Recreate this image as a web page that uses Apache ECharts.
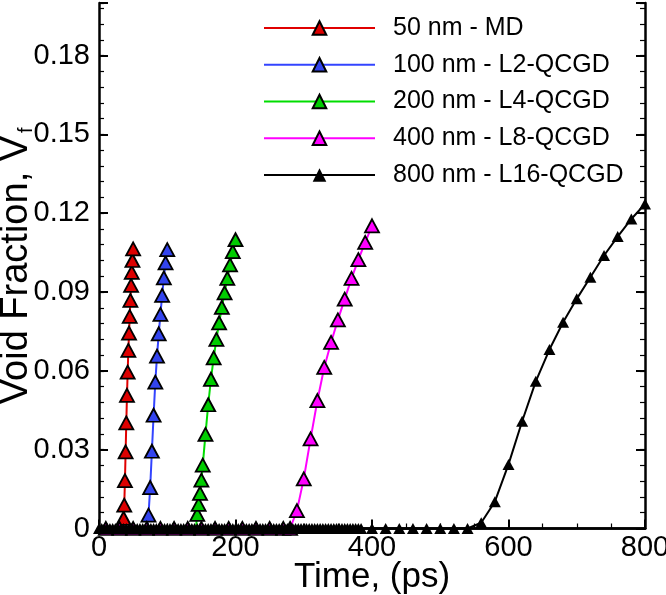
<!DOCTYPE html>
<html>
<head>
<meta charset="utf-8">
<script src="https://cdn.jsdelivr.net/npm/echarts@6/dist/echarts.min.js"></script>
<style>html,body{margin:0;padding:0;background:#fff;}#c{width:666px;height:595px;}</style>
</head>
<body>
<div id="c"></div>
<script>
// ---- data (Time in ps, void fraction Vf) ----
const seriesNames = ['50 nm - MD', '100 nm - L2-QCGD', '200 nm - L4-QCGD', '400 nm - L8-QCGD', '800 nm - L16-QCGD'];
const xTicks = [0, 200, 400, 600, 800];
const yTicks = [0, 0.03, 0.06, 0.09, 0.12, 0.15, 0.18];

// 50 nm - MD
const redFlatTime = [0, 35];
const redRiseTime = [36, 37, 38, 39, 40, 41, 42, 43, 44, 45, 46, 47, 48, 49, 50];
const redRiseVf = [0.0039, 0.0089, 0.0182, 0.0292, 0.0402, 0.0507, 0.0595, 0.0678, 0.0744, 0.0807, 0.0868, 0.0925, 0.0975, 0.1020, 0.1064];

// 100 nm - L2-QCGD
const blueFlatTime = [0, 70];
const blueRiseTime = [72.5, 75, 77.5, 80, 82.5, 85, 87.5, 90, 92.5, 95, 97.5, 100];
const blueRiseVf = [0.0051, 0.0156, 0.0294, 0.0431, 0.0557, 0.0656, 0.0741, 0.0815, 0.0887, 0.0954, 0.1011, 0.1061];

// 200 nm - L4-QCGD
const greenFlatTime = [0, 142];
const greenRiseTime = [144, 146, 148, 150, 152, 156, 160, 164, 168, 172, 176, 180, 184, 188, 192, 196, 200];
const greenRiseVf = [0.0054, 0.0092, 0.0134, 0.0184, 0.0241, 0.0358, 0.0471, 0.0568, 0.0649, 0.0720, 0.0783, 0.0842, 0.0897, 0.0952, 0.1003, 0.1054, 0.1099];

// 400 nm - L8-QCGD
const magentaFlatTime = [10, 30, 50, 70, 90, 110, 130, 150, 170, 190, 210, 230, 250, 270, 280];
const magentaRiseTime = [290, 300, 310, 320, 330, 340, 350, 360, 370, 380, 390, 400];
const magentaRiseVf = [0.0068, 0.0189, 0.0341, 0.0487, 0.0613, 0.0708, 0.0794, 0.0873, 0.0952, 0.1023, 0.1089, 0.1152];

// 800 nm - L16-QCGD
const blackFlatTime = [0,4,8,12,16,20,24,28,32,36,40,44,48,52,56,60,64,68,72,76,80,84,88,92,96,100,104,108,112,116,120,124,128,132,136,140,144,148,152,156,160,164,168,172,176,180,184,188,192,196,200,204,208,212,216,220,224,228,232,236,240,244,248,252,256,260,264,268,272,276,280,284,288,292,296,300,304,308,312,316,320,324,328,332,336,340,344,348,352,356,360,364,368,372,376,380,384,400,420,440,460,480,500,520,540];
const blackRiseTime = [560, 580, 600, 620, 640, 660, 680, 700, 720, 740, 760, 780, 800];
const blackRiseVf = [0.0022, 0.0102, 0.0244, 0.0408, 0.0560, 0.0681, 0.0785, 0.0874, 0.0956, 0.1039, 0.1111, 0.1178, 0.1235];

// ---- build ----
function build(flatTime, riseTime, riseVf, flatMarkers) {
  const out = [];
  flatTime.forEach(t => out.push(flatMarkers ? [t, 0] : { value: [t, 0], symbol: 'none' }));
  riseTime.forEach((t, i) => out.push([t, riseVf[i]]));
  return out;
}
const styles = [
  { fill: '#dd0000', line: '#e00000', size: [14, 13], border: 1.8, flat: false },
  { fill: '#3344ee', line: '#3344ff', size: [14, 13], border: 1.8, flat: false },
  { fill: '#00cc00', line: '#00dd00', size: [14, 13], border: 1.8, flat: false },
  { fill: '#ff00ff', line: '#ff00ff', size: [14, 13], border: 1.8, flat: true },
  { fill: '#000000', line: '#000000', size: [12, 11], border: 0, flat: true }
];
const datasets = [
  [redFlatTime, redRiseTime, redRiseVf],
  [blueFlatTime, blueRiseTime, blueRiseVf],
  [greenFlatTime, greenRiseTime, greenRiseVf],
  [magentaFlatTime, magentaRiseTime, magentaRiseVf],
  [blackFlatTime, blackRiseTime, blackRiseVf]
];
const series = datasets.map((d, i) => ({
  type: 'line',
  name: seriesNames[i],
  xAxisIndex: 0,
  yAxisIndex: 0,
  data: build(d[0], d[1], d[2], styles[i].flat),
  symbol: 'triangle',
  symbolSize: styles[i].size,
  showAllSymbol: true,
  clip: false,
  itemStyle: { color: styles[i].fill, borderColor: '#000', borderWidth: styles[i].border },
  lineStyle: { color: styles[i].line, width: 2 },
  emphasis: { disabled: true },
  z: 2 + i
}));

const axisCol = '#000';
const chart = echarts.init(document.getElementById('c'), null, { renderer: 'canvas' });
chart.setOption({
  animation: false,
  textStyle: { fontFamily: 'Liberation Sans, Arial, sans-serif' },
  grid: { left: 99, right: 21, top: 3, bottom: 66.5, containLabel: false, outerBoundsMode: 'none' },
  legend: {
    orient: 'vertical', left: 263, top: 15.5, padding: 0,
    itemWidth: 111, itemHeight: 17, itemGap: 11.75,
    textStyle: { fontSize: 25, color: '#000', lineHeight: 25, padding: [0, 0, 0, 13] },
    data: seriesNames
  },
  xAxis: [
    {
      type: 'value', min: xTicks[0], max: xTicks[xTicks.length - 1], interval: 200, position: 'bottom',
      axisLine: { lineStyle: { color: axisCol, width: 2.5 } },
      axisTick: { inside: true, length: 9, lineStyle: { color: axisCol, width: 2 } },
      minorTick: { show: true, splitNumber: 4, length: 5, lineStyle: { color: axisCol, width: 1.2 } },
      axisLabel: { fontSize: 29, color: '#000', margin: 5 },
      splitLine: { show: false },
      name: 'Time, (ps)', nameLocation: 'middle', nameGap: 31, nameMoveOverlap: false,
      nameTextStyle: { fontSize: 35, color: '#000' }
    },
    {
      type: 'value', min: 0, max: 800, position: 'top',
      axisLine: { lineStyle: { color: axisCol, width: 2.5 } },
      axisTick: { show: false }, axisLabel: { show: false }, splitLine: { show: false }
    }
  ],
  yAxis: [
    {
      type: 'value', min: 0, max: 0.2, interval: 0.03, position: 'left',
      axisLine: { show: true, lineStyle: { color: axisCol, width: 2.5 } },
      axisTick: { inside: true, length: 9, lineStyle: { color: axisCol, width: 2 } },
      axisLabel: {
        fontSize: 29, color: '#000', margin: 9,
        formatter: v => (v === 0 ? '0' : (v > 0.19 ? '' : v.toFixed(2)))
      },
      splitLine: { show: false },
      name: 'Void Fraction, V{s|f}', nameLocation: 'middle', nameGap: 63, nameRotate: 90, nameMoveOverlap: false,
      nameTextStyle: { fontSize: 38, color: '#000', rich: { s: { fontSize: 20, verticalAlign: 'bottom', padding: [18, 0, 0, 3] } } }
    },
    {
      type: 'value', min: 0, max: 0.2, interval: 0.006, position: 'left',
      axisLine: { show: false },
      axisTick: { inside: true, length: 5, lineStyle: { color: axisCol, width: 1.2 } },
      axisLabel: { show: false }, splitLine: { show: false }
    },
    {
      type: 'value', min: 0, max: 0.2, interval: 0.03, position: 'right',
      axisLine: { show: true, lineStyle: { color: axisCol, width: 2.5 } },
      axisTick: { inside: true, length: 9, lineStyle: { color: axisCol, width: 2 } },
      axisLabel: { show: false }, splitLine: { show: false }
    },
    {
      type: 'value', min: 0, max: 0.2, interval: 0.006, position: 'right',
      axisLine: { show: false },
      axisTick: { inside: true, length: 5, lineStyle: { color: axisCol, width: 1.2 } },
      axisLabel: { show: false }, splitLine: { show: false }
    }
  ],
  series: series
});
</script>
</body>
</html>
